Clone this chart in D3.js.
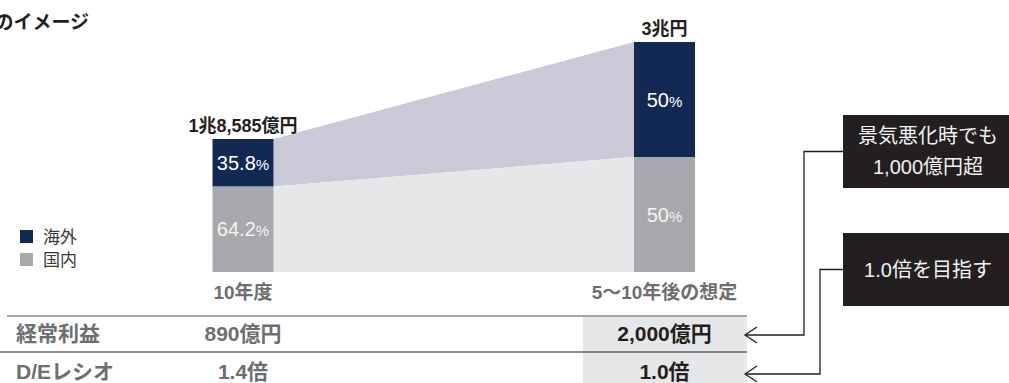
<!DOCTYPE html>
<html>
<head>
<meta charset="utf-8">
<script src="https://cdn.jsdelivr.net/npm/d3@7"></script>
<style>
  html, body { margin: 0; padding: 0; background: #fff; }
  svg { display: block; }
  text { font-family: "Liberation Sans", "Noto Sans CJK JP", sans-serif; }
</style>
</head>
<body>
<svg id="chart" width="1009" height="383"></svg>
<script>
// ---- data ----
const titleText = "のイメージ";
const categories = ["10年度", "5〜10年後の想定"];
const totals = [18585, 30000];              // 億円
const totalLabels = ["1兆8,585億円", "3兆円"];
const overseasShare = [35.8, 50];          // %
const domesticShare = [64.2, 50];          // %
const shareLabels = [["35.8", "64.2"], ["50", "50"]];
const legendLabels = ["海外", "国内"];
const tableRowLabels = ["経常利益", "D/Eレシオ"];
const ordinaryProfit = ["890億円", "2,000億円"];
const deRatio = ["1.4倍", "1.0倍"];
const callouts = [["景気悪化時でも", "1,000億円超"], ["1.0倍を目指す"]];

// ---- styles ----
const NAVY = "#122a53", GRAY = "#a7a8ab", BAND_NAVY = "#c9c9d7", BAND_GRAY = "#e6e7e9";
const DARK = "#231f20", MID = "#6d6e71";

const svg = d3.select("#chart");

// scales
const x = d3.scalePoint().domain(categories).range([243, 664.5]);
const barW = 61;
const y = d3.scaleLinear().domain([2934, 30000]).range([272, 42]);
const base = y.range()[0];

const bars = categories.map((c, i) => {
  const top = y(totals[i]);
  const h = base - top;
  const mid = base - h * domesticShare[i] / 100;
  return { c, i, top, mid, x0: x(c) - barW / 2, x1: x(c) + barW / 2 };
});

// connecting bands
const b0 = bars[0], b1 = bars[1];
svg.append("polygon")
  .attr("points", [[b0.x1, b0.top], [b1.x0, b1.top], [b1.x0, b1.mid], [b0.x1, b0.mid]].join(" "))
  .attr("fill", BAND_NAVY);
svg.append("polygon")
  .attr("points", [[b0.x1, b0.mid], [b1.x0, b1.mid], [b1.x0, base], [b0.x1, base]].join(" "))
  .attr("fill", BAND_GRAY);

// bars
bars.forEach(b => {
  svg.append("rect").attr("x", b.x0).attr("y", b.top).attr("width", barW).attr("height", b.mid - b.top).attr("fill", NAVY);
  svg.append("rect").attr("x", b.x0).attr("y", b.mid).attr("width", barW).attr("height", base - b.mid).attr("fill", GRAY);
  // share labels
  [[ (b.top + b.mid) / 2, shareLabels[b.i][0], "#ffffff"], [ (b.mid + base) / 2, shareLabels[b.i][1], "#f4f4f4"]].forEach(([cy, t, col]) => {
    const tx = svg.append("text").attr("x", x(b.c)).attr("y", cy + 7).attr("text-anchor", "middle").attr("fill", col);
    tx.append("tspan").attr("font-size", 20).text(t);
    tx.append("tspan").attr("font-size", 15).text("%");
  });
  // totals
  svg.append("text").attr("x", x(b.c)).attr("y", b.top - 7).attr("text-anchor", "middle")
    .attr("font-size", 18).attr("font-weight", "bold").attr("fill", DARK).text(totalLabels[b.i]);
  // category label
  svg.append("text").attr("x", x(b.c)).attr("y", 299).attr("text-anchor", "middle")
    .attr("font-size", 19).attr("font-weight", "bold").attr("fill", MID).text(b.c);
});

// title (cut off at the left edge, as in the reference)
svg.append("text").attr("x", 89).attr("y", 29).attr("text-anchor", "end")
  .attr("font-size", 19).attr("font-weight", "bold").attr("fill", DARK).text(titleText);

// legend
[NAVY, GRAY].forEach((col, i) => {
  svg.append("rect").attr("x", 20).attr("y", 230 + i * 23).attr("width", 13).attr("height", 13).attr("fill", col);
  svg.append("text").attr("x", 43).attr("y", 243 + i * 23).attr("font-size", 17).attr("fill", "#3a3a3a").text(legendLabels[i]);
});

// table
const rowY = [341, 379];
svg.append("rect").attr("x", 583).attr("y", 316).attr("width", 164).attr("height", 67).attr("fill", BAND_GRAY);
svg.append("line").attr("x1", 7).attr("x2", 747).attr("y1", 316).attr("y2", 316).attr("stroke", "#8a8b8d").attr("stroke-width", 1.6);
svg.append("line").attr("x1", 0).attr("x2", 747).attr("y1", 352).attr("y2", 352).attr("stroke", DARK).attr("stroke-width", 1.1);
const tableVals = [ordinaryProfit, deRatio];
tableRowLabels.forEach((lab, r) => {
  svg.append("text").attr("x", 16).attr("y", rowY[r]).attr("font-size", 21).attr("font-weight", "bold").attr("fill", MID).text(lab);
  categories.forEach((c, i) => {
    svg.append("text").attr("x", x(c)).attr("y", rowY[r]).attr("text-anchor", "middle")
      .attr("font-size", 21).attr("font-weight", "bold").attr("fill", i === 1 ? DARK : MID).text(tableVals[r][i]);
  });
});

// callouts
const boxes = [{ y0: 115, y1: 188, lineX: 804, arrowY: 335 }, { y0: 233, y1: 306, lineX: 820, arrowY: 374 }];
boxes.forEach((b, i) => {
  const cy = (b.y0 + b.y1) / 2;
  svg.append("rect").attr("x", 843).attr("y", b.y0).attr("width", 170).attr("height", b.y1 - b.y0).attr("fill", DARK);
  const lines = callouts[i];
  lines.forEach((t, k) => {
    const ly = cy + (k - (lines.length - 1) / 2) * 31 + 7;
    svg.append("text").attr("x", 928).attr("y", ly).attr("text-anchor", "middle")
      .attr("font-size", 20).attr("fill", "#f2f2f2").text(t);
  });
  svg.append("path")
    .attr("d", `M843,${cy}H${b.lineX}V${b.arrowY}H746`)
    .attr("fill", "none").attr("stroke", DARK).attr("stroke-width", 1.3);
  svg.append("path")
    .attr("d", `M757,${b.arrowY - 8}L745,${b.arrowY}L757,${b.arrowY + 8}`)
    .attr("fill", "none").attr("stroke", DARK).attr("stroke-width", 1.3);
});
</script>
</body>
</html>
